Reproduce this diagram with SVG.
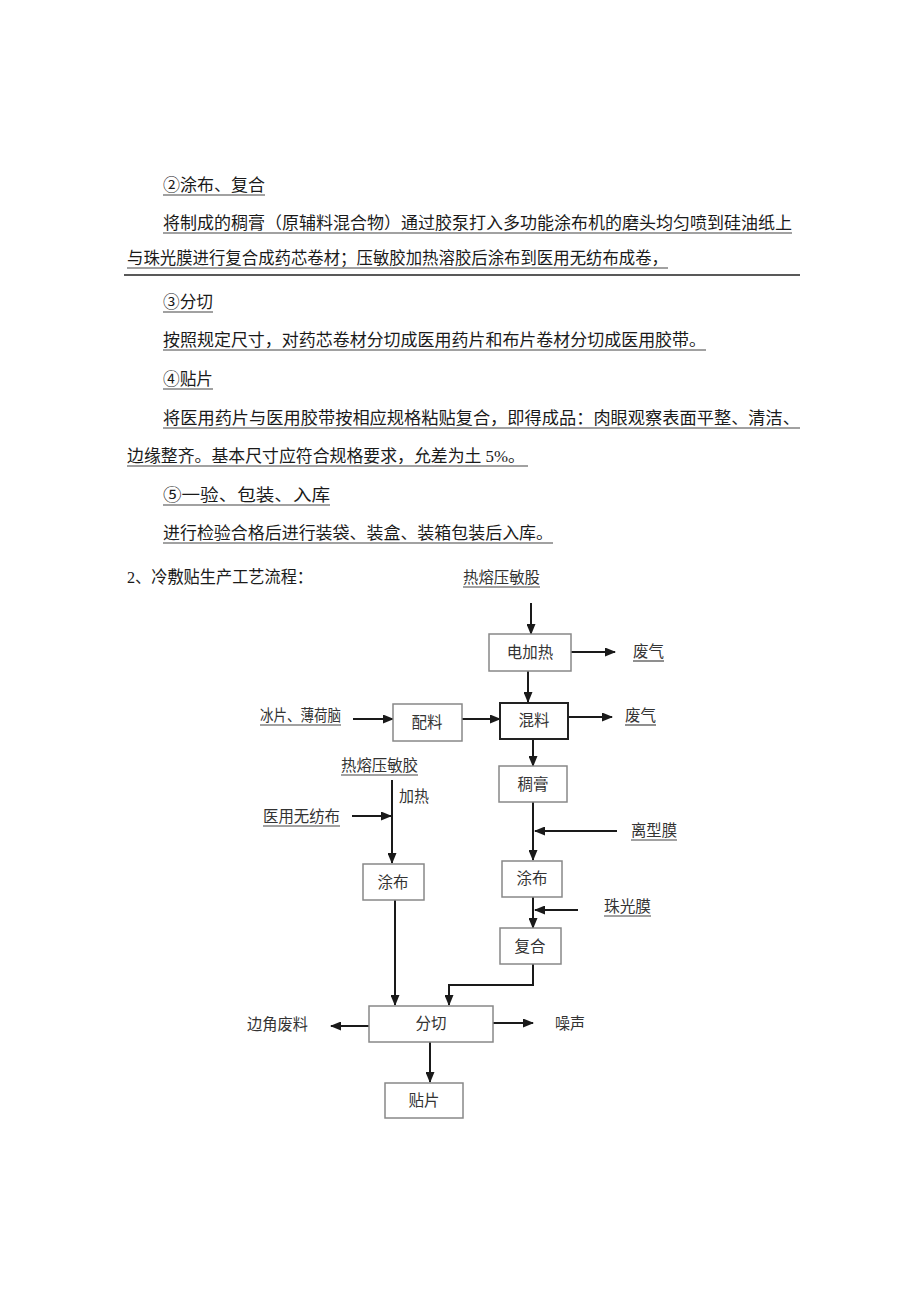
<svg xmlns="http://www.w3.org/2000/svg" width="920" height="1301" viewBox="0 0 920 1301">
<style>
.p{font-family:"Liberation Serif","Noto Sans CJK SC",serif;font-size:16.5px;fill:#1a1a1a}
.ul{stroke:#444;stroke-width:1.2}
.n rect{fill:#fff;stroke:#888;stroke-width:1.5}
.n text,.lb{font-family:"Liberation Serif","Noto Sans CJK SC",serif;font-size:15.5px;fill:#333}
.n text{text-anchor:middle}
.c path{fill:none;stroke:#1a1a1a;stroke-width:2}
</style>
<defs>
<marker id="ah" markerUnits="userSpaceOnUse" markerWidth="11" markerHeight="9" refX="10" refY="4.5" orient="auto">
<path d="M0,0 L11,4.5 L0,9 z" fill="#1a1a1a"/>
</marker>
</defs>
<rect width="920" height="1301" fill="#fff"/>

<g id="text-block">
<text class="p" x="163" y="191" textLength="102" lengthAdjust="spacingAndGlyphs">②涂布、复合</text>
<line class="ul" x1="163" y1="195" x2="265" y2="195"/>
<text class="p" x="163" y="229" textLength="629" lengthAdjust="spacingAndGlyphs">将制成的稠膏（原辅料混合物）通过胶泵打入多功能涂布机的磨头均匀喷到硅油纸上</text>
<line class="ul" x1="163" y1="233" x2="792" y2="233" stroke-width="1.6"/>
<text class="p" x="127" y="264" textLength="541" lengthAdjust="spacingAndGlyphs">与珠光膜进行复合成药芯卷材；压敏胶加热溶胶后涂布到医用无纺布成卷，</text>
<line class="ul" x1="127" y1="268" x2="668" y2="268"/>
<line x1="124" y1="275" x2="800" y2="275" stroke="#222" stroke-width="1.4"/>
<text class="p" x="163" y="308" textLength="50" lengthAdjust="spacingAndGlyphs">③分切</text>
<line class="ul" x1="163" y1="312" x2="213" y2="312"/>
<text class="p" x="163" y="346" textLength="543" lengthAdjust="spacingAndGlyphs">按照规定尺寸，对药芯卷材分切成医用药片和布片卷材分切成医用胶带。</text>
<line class="ul" x1="163" y1="350" x2="706" y2="350" stroke-width="1.6"/>
<text class="p" x="163" y="385" textLength="50" lengthAdjust="spacingAndGlyphs">④贴片</text>
<line class="ul" x1="163" y1="389" x2="213" y2="389"/>
<text class="p" x="163" y="424" textLength="637" lengthAdjust="spacingAndGlyphs">将医用药片与医用胶带按相应规格粘贴复合，即得成品：肉眼观察表面平整、清洁、</text>
<line class="ul" x1="163" y1="428" x2="800" y2="428"/>
<text class="p" x="127" y="462" textLength="398" lengthAdjust="spacingAndGlyphs">边缘整齐。基本尺寸应符合规格要求，允差为土 5%。</text>
<line class="ul" x1="127" y1="466" x2="528" y2="466" stroke-width="1.6"/>
<text class="p" x="163" y="501" textLength="167" lengthAdjust="spacingAndGlyphs">⑤一验、包装、入库</text>
<line class="ul" x1="163" y1="505" x2="330" y2="505"/>
<text class="p" x="163" y="539" textLength="390" lengthAdjust="spacingAndGlyphs">进行检验合格后进行装袋、装盒、装箱包装后入库。</text>
<line class="ul" x1="163" y1="543" x2="553" y2="543"/>
<text class="p" x="127" y="583" textLength="186" lengthAdjust="spacingAndGlyphs">2、冷敷贴生产工艺流程：</text>
</g>

<g class="c" id="connectors">
<path d="M531,603 V634" marker-end="url(#ah)"/>
<path d="M571,652 H615" marker-end="url(#ah)"/>
<path d="M528,671 V702" marker-end="url(#ah)"/>
<path d="M353,719 H393" marker-end="url(#ah)"/>
<path d="M462,719 H500" marker-end="url(#ah)"/>
<path d="M568,717 H612" marker-end="url(#ah)"/>
<path d="M533,739 V766" marker-end="url(#ah)"/>
<path d="M533,802 V860" marker-end="url(#ah)"/>
<path d="M617,831 H535" marker-end="url(#ah)"/>
<path d="M533,897 V928" marker-end="url(#ah)"/>
<path d="M578,910 H535" marker-end="url(#ah)"/>
<path d="M533,964 V985 H449 V1005" marker-end="url(#ah)"/>
<path d="M392,780 V863" marker-end="url(#ah)"/>
<path d="M352,816 H391" marker-end="url(#ah)"/>
<path d="M395,900 V1005" marker-end="url(#ah)"/>
<path d="M369,1026 H331" marker-end="url(#ah)"/>
<path d="M493,1023 H533" marker-end="url(#ah)"/>
<path d="M430,1042 V1082" marker-end="url(#ah)"/>
</g>

<g id="labels">
<g id="lbl-rrymj-top"><text class="lb" x="463" y="583" textLength="77" lengthAdjust="spacingAndGlyphs">热熔压敏股</text><line class="ul" x1="463" y1="587" x2="540" y2="587"/></g>
<g id="lbl-fq1"><text class="lb" x="633" y="657" textLength="31" lengthAdjust="spacingAndGlyphs">废气</text><line class="ul" x1="633" y1="661" x2="664" y2="661"/></g>
<g id="lbl-fq2"><text class="lb" x="625" y="721" textLength="31" lengthAdjust="spacingAndGlyphs">废气</text><line class="ul" x1="625" y1="725" x2="656" y2="725"/></g>
<g id="lbl-bp"><text class="lb" x="260" y="721" textLength="81" lengthAdjust="spacingAndGlyphs">冰片、薄荷脑</text><line class="ul" x1="260" y1="725" x2="341" y2="725"/></g>
<g id="lbl-rrymj"><text class="lb" x="341" y="771" textLength="77" lengthAdjust="spacingAndGlyphs">热熔压敏胶</text><line class="ul" x1="341" y1="775" x2="418" y2="775"/></g>
<g id="lbl-jr"><text class="lb" x="399" y="802" textLength="30" lengthAdjust="spacingAndGlyphs">加热</text></g>
<g id="lbl-yywfb"><text class="lb" x="263" y="822" textLength="77" lengthAdjust="spacingAndGlyphs">医用无纺布</text><line class="ul" x1="263" y1="826" x2="340" y2="826"/></g>
<g id="lbl-lxm"><text class="lb" x="631" y="836" textLength="46" lengthAdjust="spacingAndGlyphs">离型膜</text><line class="ul" x1="631" y1="840" x2="677" y2="840"/></g>
<g id="lbl-zgm"><text class="lb" x="604" y="912" textLength="47" lengthAdjust="spacingAndGlyphs">珠光膜</text><line class="ul" x1="604" y1="916" x2="651" y2="916"/></g>
<g id="lbl-bjfl"><text class="lb" x="247" y="1030" textLength="61" lengthAdjust="spacingAndGlyphs">边角废料</text></g>
<g id="lbl-zs"><text class="lb" x="555" y="1029" textLength="30" lengthAdjust="spacingAndGlyphs">噪声</text></g>
</g>

<g class="n" id="n-djr"><rect x="489" y="634" width="82" height="37"/><text x="530" y="658">电加热</text></g>
<g class="n" id="n-pl"><rect x="393" y="704" width="69" height="37"/><text x="427" y="728">配料</text></g>
<g class="n" id="n-hl"><rect x="500" y="703" width="68" height="36" style="stroke:#222;stroke-width:2"/><text x="534" y="726">混料</text></g>
<g class="n" id="n-cg"><rect x="499" y="766" width="68" height="36"/><text x="533" y="790">稠膏</text></g>
<g class="n" id="n-tb-r"><rect x="502" y="861" width="60" height="36"/><text x="532" y="884">涂布</text></g>
<g class="n" id="n-fh"><rect x="500" y="928" width="61" height="36"/><text x="530" y="952">复合</text></g>
<g class="n" id="n-tb-l"><rect x="363" y="864" width="61" height="36"/><text x="393" y="888">涂布</text></g>
<g class="n" id="n-fq"><rect x="369" y="1006" width="124" height="36"/><text x="431" y="1029">分切</text></g>
<g class="n" id="n-tp"><rect x="385" y="1083" width="78" height="35"/><text x="424" y="1106">贴片</text></g>
</svg>
